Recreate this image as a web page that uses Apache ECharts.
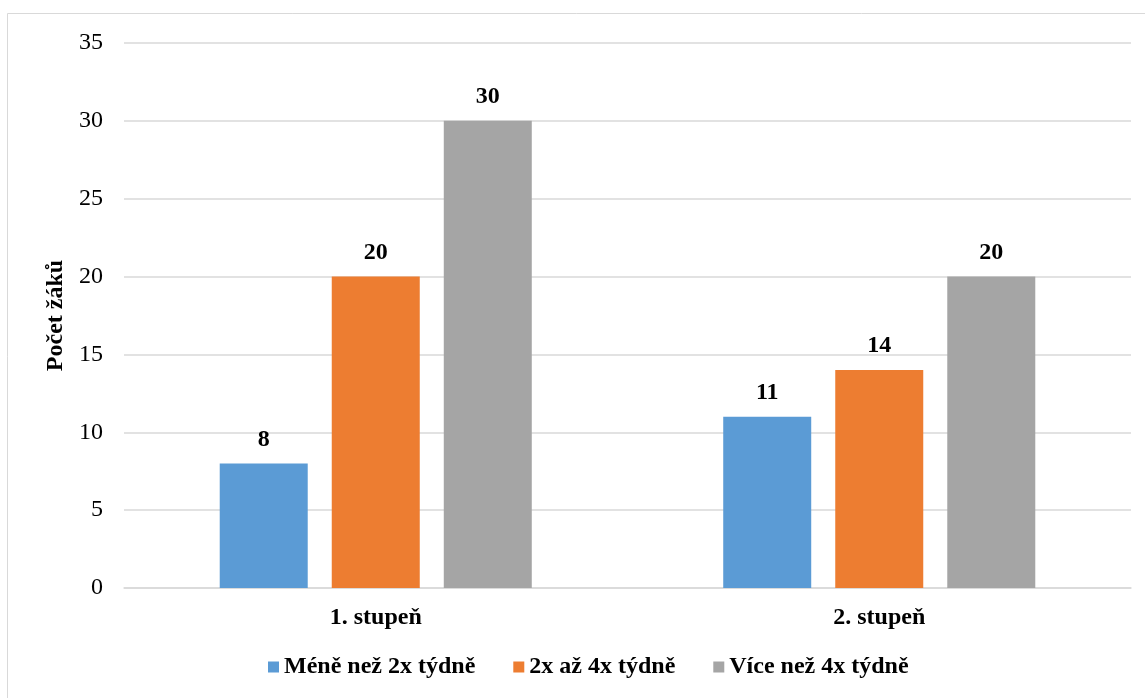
<!DOCTYPE html>
<html>
<head>
<meta charset="utf-8">
<script src="https://cdn.jsdelivr.net/npm/echarts@6/dist/echarts.min.js"></script>
<style>
  html, body { margin: 0; padding: 0; background: #ffffff; }
  #chart { width: 1145px; height: 698px; }
</style>
</head>
<body>
<div id="chart"></div>
<script>
// Počet žáků podle frekvence – 1. a 2. stupeň
const categories = ['1. stupeň', '2. stupeň'];
const seriesNames = ['Méně než 2x týdně', '2x až 4x týdně', 'Více než 4x týdně'];
const meneNez2x = [8, 11];
const dvaAz4x = [20, 14];
const viceNez4x = [30, 20];
const yTicks = { min: 0, max: 35, interval: 5 };
const colors = ['#5b9bd5', '#ed7d31', '#a5a5a5'];

const FONT = '"Liberation Serif", "Times New Roman", serif';
const FS = 24;
const values = [meneNez2x, dvaAz4x, viceNez4x];

const chart = echarts.init(document.getElementById('chart'), null, { renderer: 'canvas' });

chart.setOption({
  animation: false,
  backgroundColor: '#ffffff',
  textStyle: { fontFamily: FONT, color: '#000' },
  graphic: [{
    type: 'rect',
    shape: { x: 7.5, y: 13.5, width: 1160, height: 700 },
    style: { fill: 'none', stroke: '#d9d9d9', lineWidth: 1 },
    silent: true,
    z: -1
  }],
  grid: { left: 124, right: 14, top: 43, bottom: 110 },
  legend: {
    data: seriesNames,
    left: 268,
    top: 655,
    padding: 0,
    itemWidth: 11,
    itemHeight: 11,
    itemGap: 38,
    icon: 'rect',
    textStyle: { fontFamily: FONT, fontSize: FS, fontWeight: 'bold', color: '#000' }
  },
  xAxis: {
    type: 'category',
    data: categories,
    axisLine: { show: true, lineStyle: { color: '#d9d9d9', width: 1.5 } },
    axisTick: { show: false },
    axisLabel: { margin: 18, fontFamily: FONT, fontSize: FS, fontWeight: 'bold', color: '#000' }
  },
  yAxis: {
    type: 'value',
    min: yTicks.min,
    max: yTicks.max,
    interval: yTicks.interval,
    name: 'Počet žáků',
    nameLocation: 'middle',
    nameGap: 54,
    nameRotate: 90,
    nameTextStyle: { fontFamily: FONT, fontSize: FS, fontWeight: 'bold', color: '#000' },
    axisLine: { show: false },
    axisTick: { show: false },
    splitLine: { lineStyle: { color: '#d9d9d9', width: 1.5 } },
    axisLabel: { margin: 21, fontFamily: FONT, fontSize: FS, color: '#000' }
  },
  series: seriesNames.map((name, i) => ({
    name: name,
    type: 'bar',
    data: values[i],
    barWidth: 88,
    barGap: '27.3%',
    itemStyle: { color: colors[i] },
    label: {
      show: true,
      position: 'top',
      distance: 12,
      fontFamily: FONT,
      fontSize: FS,
      fontWeight: 'bold',
      color: '#000'
    }
  }))
});
</script>
</body>
</html>
